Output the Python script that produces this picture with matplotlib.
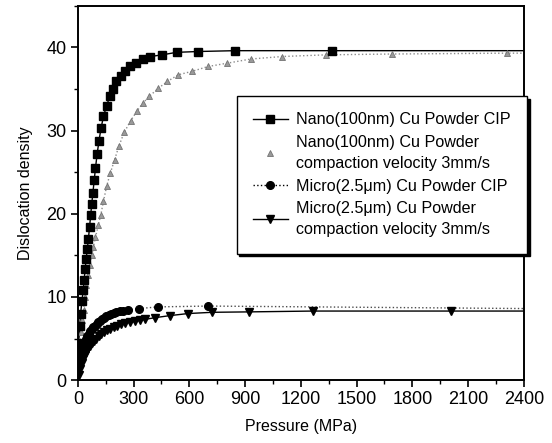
import numpy as np
import matplotlib
matplotlib.use("Agg")
import matplotlib.pyplot as plt
from matplotlib.ticker import MultipleLocator

plt.rcParams['font.family'] = ['Liberation Sans', 'DejaVu Sans']

# Nano(100nm) Cu powder, CIP (squares)
nano_cip_x = [5, 10, 15, 22, 29, 34, 39, 45, 51, 57, 63, 69, 75, 81, 88, 95, 104, 114, 125,
              138, 155, 172, 190, 208, 230, 255, 281, 314, 350, 391, 454, 531, 647, 845, 1368]
nano_cip_y = [4.5, 6.5, 8.0, 9.5, 10.8, 12.0, 13.3, 14.6, 15.8, 17.0, 18.4, 19.8, 21.2, 22.5,
              24.0, 25.5, 27.2, 28.8, 30.3, 31.7, 33.0, 34.1, 35.0, 35.9, 36.6, 37.2, 37.7,
              38.1, 38.6, 38.9, 39.1, 39.4, 39.5, 39.6, 39.6]

# Nano(100nm) Cu powder, compaction velocity 3mm/s (grey triangles)
nano_cv_x = [5, 10, 16, 23, 31, 38, 45, 55, 65, 75, 84, 95, 110, 124, 138, 155, 175, 198, 222,
             250, 285, 320, 350, 384, 434, 482, 540, 612, 701, 805, 931, 1101, 1338, 1693, 2310]
nano_cv_y = [3.0, 4.5, 5.8, 7.2, 8.4, 10.0, 11.4, 12.6, 13.8, 15.0, 16.0, 17.2, 18.6, 19.9,
             21.5, 23.3, 24.9, 26.5, 28.2, 29.8, 31.2, 32.4, 33.3, 34.1, 35.1, 35.9, 36.7,
             37.1, 37.7, 38.1, 38.6, 38.9, 39.1, 39.2, 39.3]

# Micro(2.5um) Cu powder, CIP (circles)
micro_cip_x = [8, 14, 20, 26, 32, 38, 45, 52, 60, 68, 76, 84, 92, 101, 110, 120, 131, 142, 154,
               166, 179, 193, 208, 225, 245, 268, 330, 432, 701]
micro_cip_y = [2.0, 2.8, 3.4, 3.9, 4.3, 4.6, 5.0, 5.3, 5.6, 5.9, 6.1, 6.35, 6.55, 6.75, 6.95,
               7.15, 7.35, 7.5, 7.65, 7.8, 7.95, 8.05, 8.15, 8.25, 8.35, 8.45, 8.6, 8.8, 8.9]

# Micro(2.5um) Cu powder, compaction velocity 3mm/s (down triangles)
micro_cv_x = [5, 12, 20, 28, 36, 45, 55, 65, 76, 88, 100, 113, 127, 142, 158, 175, 193, 212,
              233, 256, 280, 307, 335, 362, 414, 495, 593, 723, 922, 1266, 2007]
micro_cv_y = [0.6, 1.3, 2.0, 2.6, 3.0, 3.4, 3.8, 4.1, 4.4, 4.7, 5.0, 5.25, 5.5, 5.75, 6.0,
              6.2, 6.4, 6.55, 6.7, 6.85, 6.95, 7.05, 7.2, 7.3, 7.5, 7.75, 8.0, 8.15, 8.2,
              8.3, 8.3]

# fitted curves run on to the right edge at their plateau values
x_end = 2400
nano_cip_end = 39.6
nano_cv_end = 39.3
micro_cip_end = 8.6
micro_cv_end = 8.3

fig = plt.figure(figsize=(5.52, 4.43), dpi=100)
ax = fig.add_axes([0.141, 0.142, 0.808, 0.845])

# lines
ax.plot([0] + nano_cip_x + [x_end], [0] + nano_cip_y + [nano_cip_end], '-', color='k', lw=1)
ax.plot([0] + nano_cv_x + [x_end], [0] + nano_cv_y + [nano_cv_end], ':', color='0.55', lw=1)
ax.plot([0] + micro_cip_x + [x_end], [0] + micro_cip_y + [micro_cip_end], ':', color='0.3', lw=1)
ax.plot([0] + micro_cv_x + [x_end], [0] + micro_cv_y + [micro_cv_end], '-', color='k', lw=1)

# markers
ax.plot(nano_cv_x, nano_cv_y, '^', color='0.6', ms=4.5, mec='0.45', mew=0.6, ls='none')
ax.plot(micro_cip_x, micro_cip_y, 'o', color='k', ms=5.5, ls='none')
ax.plot(micro_cv_x, micro_cv_y, 'v', color='k', ms=6, ls='none')
ax.plot(nano_cip_x, nano_cip_y, 's', color='k', ms=5.2, ls='none')

# legend proxies
h1, = ax.plot([], [], '-s', color='k', ms=5.2, lw=1)
h2, = ax.plot([], [], '^', color='0.6', mec='0.45', mew=0.6, ms=4.5, ls='none')
h3, = ax.plot([], [], ':o', color='k', ms=5.5, lw=1)
h4, = ax.plot([], [], '-v', color='k', ms=6, lw=1)
leg = ax.legend([h1, h2, h3, h4],
                ['Nano(100nm) Cu Powder CIP',
                 'Nano(100nm) Cu Powder\ncompaction velocity 3mm/s',
                 'Micro(2.5\u03bcm) Cu Powder CIP',
                 'Micro(2.5\u03bcm) Cu Powder\ncompaction velocity 3mm/s'],
                loc='upper left', bbox_to_anchor=(0.356, 0.758), borderaxespad=0,
                fontsize=11.6, frameon=True, fancybox=False,
                shadow={'color': 'k', 'alpha': 1}, edgecolor='k',
                handlelength=2.2, handletextpad=0.5, labelspacing=0.45,
                borderpad=1.0)
for t in leg.get_texts():
    t.set_linespacing(1.55)
leg.get_frame().set_linewidth(1.0)
leg.get_frame().set_alpha(1)
leg.set_clip_on(False)

ax.set_xlim(0, 2400)
ax.set_ylim(0, 45)
ax.xaxis.set_major_locator(MultipleLocator(300))
ax.xaxis.set_minor_locator(MultipleLocator(150))
ax.yaxis.set_major_locator(MultipleLocator(10))
ax.yaxis.set_minor_locator(MultipleLocator(5))
ax.tick_params(which='major', direction='out', length=5, width=1.2, labelsize=13, pad=3)
ax.tick_params(which='minor', direction='out', length=3, width=1)
for s in ax.spines.values():
    s.set_linewidth(1.4)

ax.set_xlabel('Pressure (MPa)', fontsize=11.5, labelpad=8)
ax.set_ylabel('Dislocation density', fontsize=11.5, labelpad=10)

fig.savefig('out.png', dpi=100)
